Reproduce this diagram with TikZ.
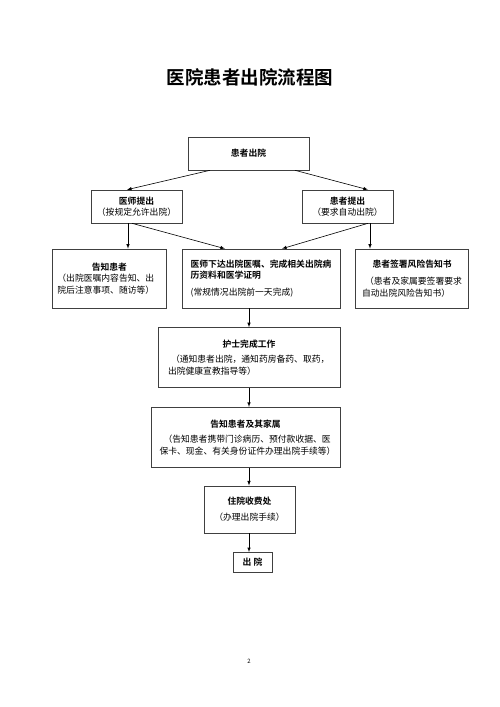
\documentclass[tikz,border=0pt]{standalone}
\usepackage{fontspec}
\setmainfont{Noto Sans CJK SC}[BoldFont={Noto Sans CJK SC Bold}]
\usetikzlibrary{positioning}
\usetikzlibrary{calc}
\tikzset{every picture/.style={line width=0.6pt},box/.style={draw=black!75,align=center,font=\fontsize{8.8}{11.5}\selectfont,inner sep=2pt}}
\newcommand{\hd}[1]{\makebox[\hsize]{\textbf{#1}}}

\begin{document}
\begin{tikzpicture}[x=1pt,y=-1pt]
\useasboundingbox (0,0) rectangle (500,707);
\node (ttl) at (250,77) {\fontsize{18.5}{20}\selectfont\bfseries 医院患者出院流程图};
\node (cy) [box, minimum width=121, minimum height=33] at (248.5,153.5) {\textbf{患者出院}};
\node (ys) [box, minimum width=91, minimum height=33] at (136.5,206.5) {\textbf{医师提出}\\（按规定允许出院）};
\node (hz) [box, minimum width=91, minimum height=33] at (347.5,206.5) {\textbf{患者提出}\\（要求自动出院）};
\node (xd) [box, minimum width=158, minimum height=59, align=left] at (261,278.5) {\textbf{医师下达出院医嘱、完成相关出院病}\\\textbf{历资料和医学证明}\\[5pt](常规情况出院前一天完成)};
\node (gz) [box, minimum width=114, minimum height=59, text width=104, align=left, left=15pt of xd] {\hd{告知患者}\\（出院医嘱内容告知、出\\院后注意事项、随访等）};
\node (qs) [box, minimum width=113, minimum height=59, text width=100, align=left, right=15pt of xd] {\hd{患者签署风险告知书}\\[6pt]\hspace*{3pt}（患者及家属要签署要求\\自动出院风险告知书）};
\node (hs) [box, minimum width=182, minimum height=60, text width=162, align=left, below=19pt of xd, xshift=-12pt] {\hd{护士完成工作}\\[4pt]\hspace*{3pt}（通知患者出院，通知药房备药、取药，\\出院健康宣教指导等）};
\node (jsh) [box, minimum width=189, minimum height=60, text width=172, align=left, below=19pt of hs, xshift=-3.5pt] {\hd{告知患者及其家属}\\[4pt]\hspace*{4pt}（告知患者携带门诊病历、预付款收据、医\\保卡、现金、有关身份证件办理出院手续等）};
\node (sf) [box, minimum width=91, minimum height=47, below=18pt of jsh, xshift=4pt] {\textbf{住院收费处}\\[4pt]（办理出院手续）};
\node (cyu) [box, minimum width=39, minimum height=20, below=19pt of sf, xshift=3pt] {\textbf{出\ 院}};
\node (pg) at (249,661) {\fontsize{6}{7}\selectfont 2};
\coordinate (sp) at (249,0);
\draw[-latex] ([xshift=-38.5pt]cy.south) -- ([xshift=-9.5pt]ys.north);
\draw[-latex] ([xshift=46.5pt]cy.south) -- ([xshift=20.5pt]hz.north);
\draw[-latex] ([xshift=-8.5pt]ys.south) -- ([xshift=-8.5pt]ys.south |- gz.north);
\draw[-latex] ([xshift=-4.5pt]ys.south) -- ([xshift=-36pt]xd.north);
\draw[-latex] ([xshift=22.5pt]hz.south) -- ([xshift=22.5pt]hz.south |- qs.north);
\draw[-latex] ([xshift=20.5pt]hz.south) -- ([xshift=21pt]xd.north);
\foreach \a/\b in {xd/hs, hs/jsh, jsh/sf, sf/cyu} {
\draw[-latex] (\a.south -| sp) -- (\b.north -| sp);
}
\end{tikzpicture}
\end{document}
